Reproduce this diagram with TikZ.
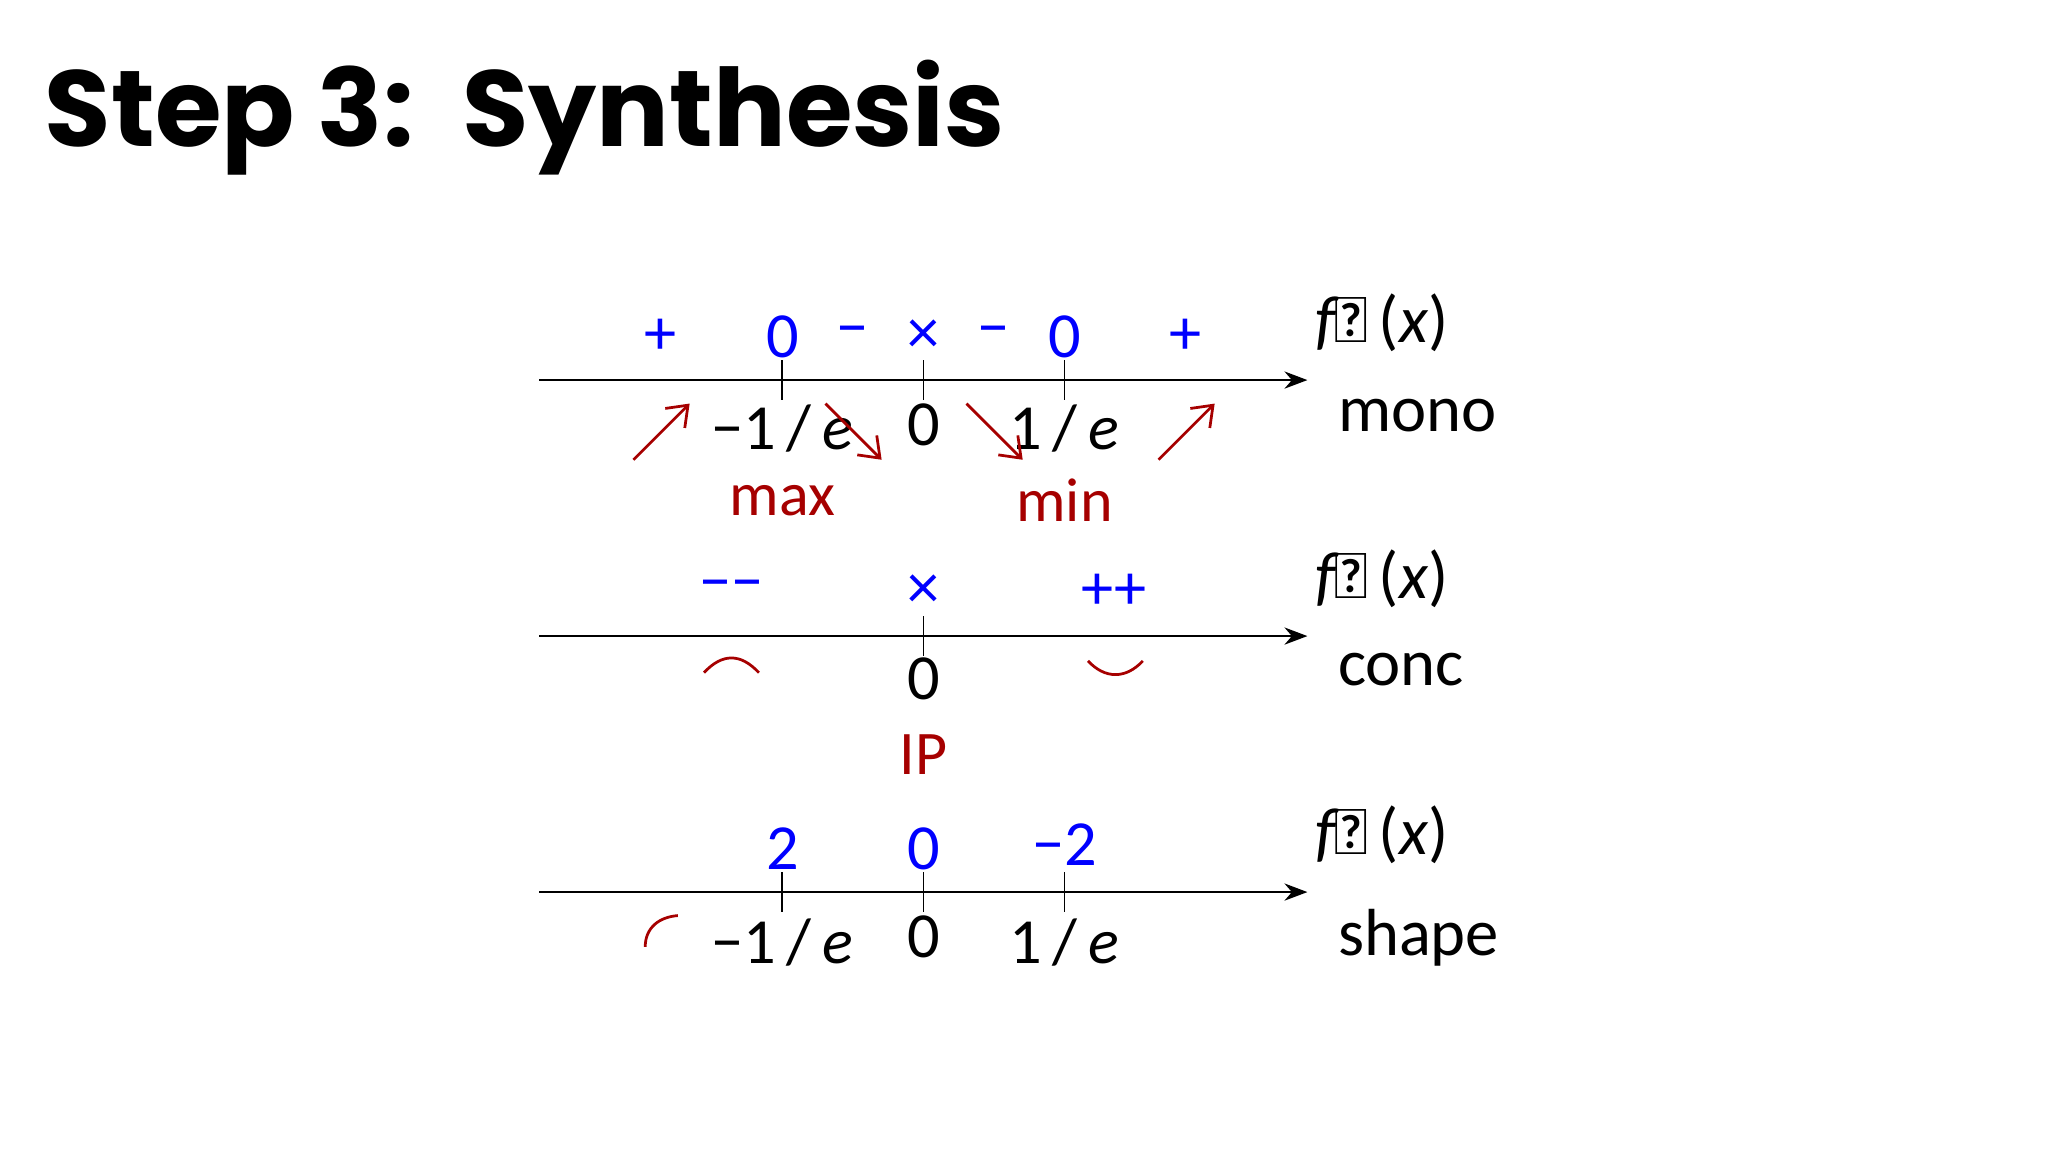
\documentclass[tikz,border=0pt]{standalone}
\usepackage{fontspec}
\usetikzlibrary{arrows.meta}
\setmainfont{Carlito}
\newfontfamily\titlefont{Poppins}
\newcommand{\mi}[1]{\textit{#1}}
\begin{document}
\begin{tikzpicture}[x=0.01cm,y=-0.01cm,
  blu/.style={text=blue,font=\fontsize{14}{14}\selectfont},
  blk/.style={font=\fontsize{14}{14}\selectfont},
  lab/.style={font=\fontsize{14.5}{14.5}\selectfont},
  rd/.style={text=red!65!black,font=\fontsize{13.5}{13.5}\selectfont},
  rarr/.style={draw=red!65!black,semithick,-{Straight Barb[length=4pt,width=6pt]}},
  rarc/.style={draw=red!65!black,semithick},
  axis/.style={draw,-{Stealth[length=5pt]}},
  tick/.style={draw}]
\useasboundingbox (0,0) rectangle (1568,882);
\node[anchor=west,font=\titlefont\bfseries\fontsize{23.5}{23.5}\selectfont] (title) at (22,90) {Step 3:\, Synthesis};
% axes
\foreach \r/\y in {a/291,b/487,c/683}{
  \coordinate (\r s) at (413,\y); \coordinate (\r e) at (1001,\y);
  \draw[axis] (\r s) -- (\r e);
  \node[lab] (fp\r) at (1058,\y-44) {\mi{f}\kern-1pt′\,(\mi{x})};
}
\foreach \x/\n in {599/1,707/2,815/3}{\coordinate (ta\n) at (\x,276); \coordinate (tb\n) at (\x,306); \draw[tick] (ta\n)--(tb\n);}
\coordinate (tc1) at (707,472); \coordinate (tc2) at (707,502); \draw[tick] (tc1)--(tc2);
\foreach \x/\n in {599/1,707/2,815/3}{\coordinate (td\n) at (\x,668); \coordinate (te\n) at (\x,698); \draw[tick] (td\n)--(te\n);}
\node[lab,anchor=west] (mono) at (1012,318) {mono};
\node[lab,anchor=west] (conc) at (1012,513) {conc};
\node[lab,anchor=west] (shape) at (1012,718) {shape};
% row 1
\node[blu] (p1) at (506,258) {+};
\node[blu] (z1) at (599,258) {0};
\node[blu] (m1) at (653,258) {−};
\node[blu] (x1) at (707,258) {×};
\node[blu] (m2) at (761,258) {−};
\node[blu] (z2) at (815,258) {0};
\node[blu] (p2) at (908,258) {+};
\node[blk] (l1) at (599,328) {−1\,/\,\mi{e}};
\node[blk] (l2) at (707,325) {0};
\node[blk] (l3) at (815,328) {1\,/\,\mi{e}};
\coordinate (r1a) at (485,352); \coordinate (r1b) at (528,309);
\coordinate (r2a) at (632,309); \coordinate (r2b) at (675,352);
\coordinate (r3a) at (740,309); \coordinate (r3b) at (783,352);
\coordinate (r4a) at (887,352); \coordinate (r4b) at (930,309);
\draw[rarr] (r1a)--(r1b); \draw[rarr] (r2a)--(r2b);
\draw[rarr] (r3a)--(r3b); \draw[rarr] (r4a)--(r4b);
\node[rd] (max) at (599,383) {max};
\node[rd] (min) at (815,383) {min};
% row 2
\node[blu] (mm) at (560,453) {−−};
\node[blu] (x2) at (707,453) {×};
\node[blu] (pp) at (853,453) {++};
\draw[rarc] (539,515) .. controls (553,500) and (567,500) .. (581,515);
\draw[rarc] (833,506) .. controls (846,520) and (862,520) .. (875,506);
\node[blk] (l4) at (707,520) {0};
\node[rd] (ip) at (707,578) {IP};
% row 3
\node[blu] (t2) at (599,650) {2};
\node[blu] (t0) at (707,650) {0};
\node[blu] (tm2) at (815,647) {−2};
\node[blk] (l5) at (599,722) {−1\,/\,\mi{e}};
\node[blk] (l6) at (707,717) {0};
\node[blk] (l7) at (815,722) {1\,/\,\mi{e}};
\draw[rarc] (494,725) .. controls (494,710) and (505,702) .. (519,701);
\end{tikzpicture}
\end{document}
